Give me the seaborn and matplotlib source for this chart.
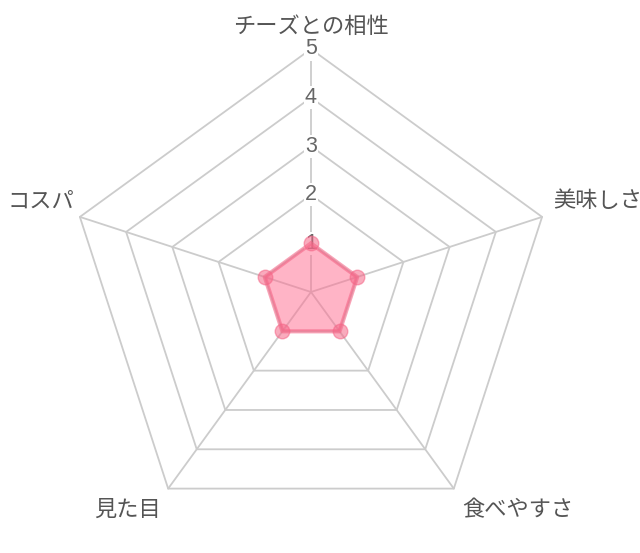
import numpy as np
import pandas as pd
import matplotlib
matplotlib.use("Agg")
import matplotlib.pyplot as plt
import seaborn as sns

# ---- data ----
categories = ["チーズとの相性", "美味しさ", "食べやすさ", "見た目", "コスパ"]
scores = [1, 1, 1, 1, 1]
tick_values = [1, 2, 3, 4, 5]
tick_labels = ["1", "2", "3", "4", "5"]
r_max = 5

sns.set_theme(style="white")
plt.rcParams['font.family'] = ['Noto Sans CJK JP', 'DejaVu Sans']

n = len(categories)
angles = np.arange(n) * 2 * np.pi / n

fig = plt.figure(figsize=(6.4, 5.53), dpi=100)
ax = fig.add_axes([0, 0, 1, 1])

grid_color = '#cccccc'
text_color = '#666666'
pink = (0.96, 0.40, 0.53)

# polygon rings
ang_c = np.append(angles, angles[0])
for t in tick_values:
    ax.plot(t * np.sin(ang_c), t * np.cos(ang_c), color=grid_color, lw=1.3, zorder=1)
# spokes
for a in angles:
    ax.plot([0, r_max * np.sin(a)], [0, r_max * np.cos(a)], color=grid_color, lw=1.3, zorder=1)

# tick labels with white backdrop
for v, lab in zip(tick_values, tick_labels):
    ax.text(0, v, lab, ha='center', va='center', fontsize=15.5, color=text_color,
            family=['Liberation Sans'],
            bbox=dict(fc='white', ec='none', pad=0.8), zorder=2)

# data polygon
df = pd.DataFrame({'category': categories, 'score': scores, 'angle': angles})
df['x'] = df['score'] * np.sin(df['angle'])
df['y'] = df['score'] * np.cos(df['angle'])
closed = pd.concat([df, df.iloc[:1]], ignore_index=True)
ax.fill(closed['x'], closed['y'], color=(1.0, 0.42, 0.56), alpha=0.5, lw=0, zorder=3)
ax.plot(closed['x'], closed['y'], color=pink, alpha=0.6, lw=3, zorder=4)
sns.scatterplot(data=df, x='x', y='y', s=110, color=pink, alpha=0.55,
                edgecolor=pink, linewidth=1.0, ax=ax, zorder=5, legend=False)

# category labels
lab_r = r_max * 1.062
aligns = [('center', 'bottom'), ('left', 'bottom'), ('left', 'top'),
          ('right', 'top'), ('right', 'bottom')]
offsets = [(0, -3), (-2, 0), (0, 2), (1, 2), (6, 0)]  # in points
for cat, a, (ha, va), off in zip(categories, angles, aligns, offsets):
    ax.annotate(cat, (lab_r * np.sin(a), lab_r * np.cos(a)), xytext=off,
                textcoords='offset points', ha=ha, va=va,
                fontsize=16, color='#555555', annotation_clip=False)

ax.set_xlim(-6.399, 6.770)
ax.set_ylim(-5.370, 6.008)
ax.axis('off')

fig.savefig("out.png", dpi=100, facecolor='white')
